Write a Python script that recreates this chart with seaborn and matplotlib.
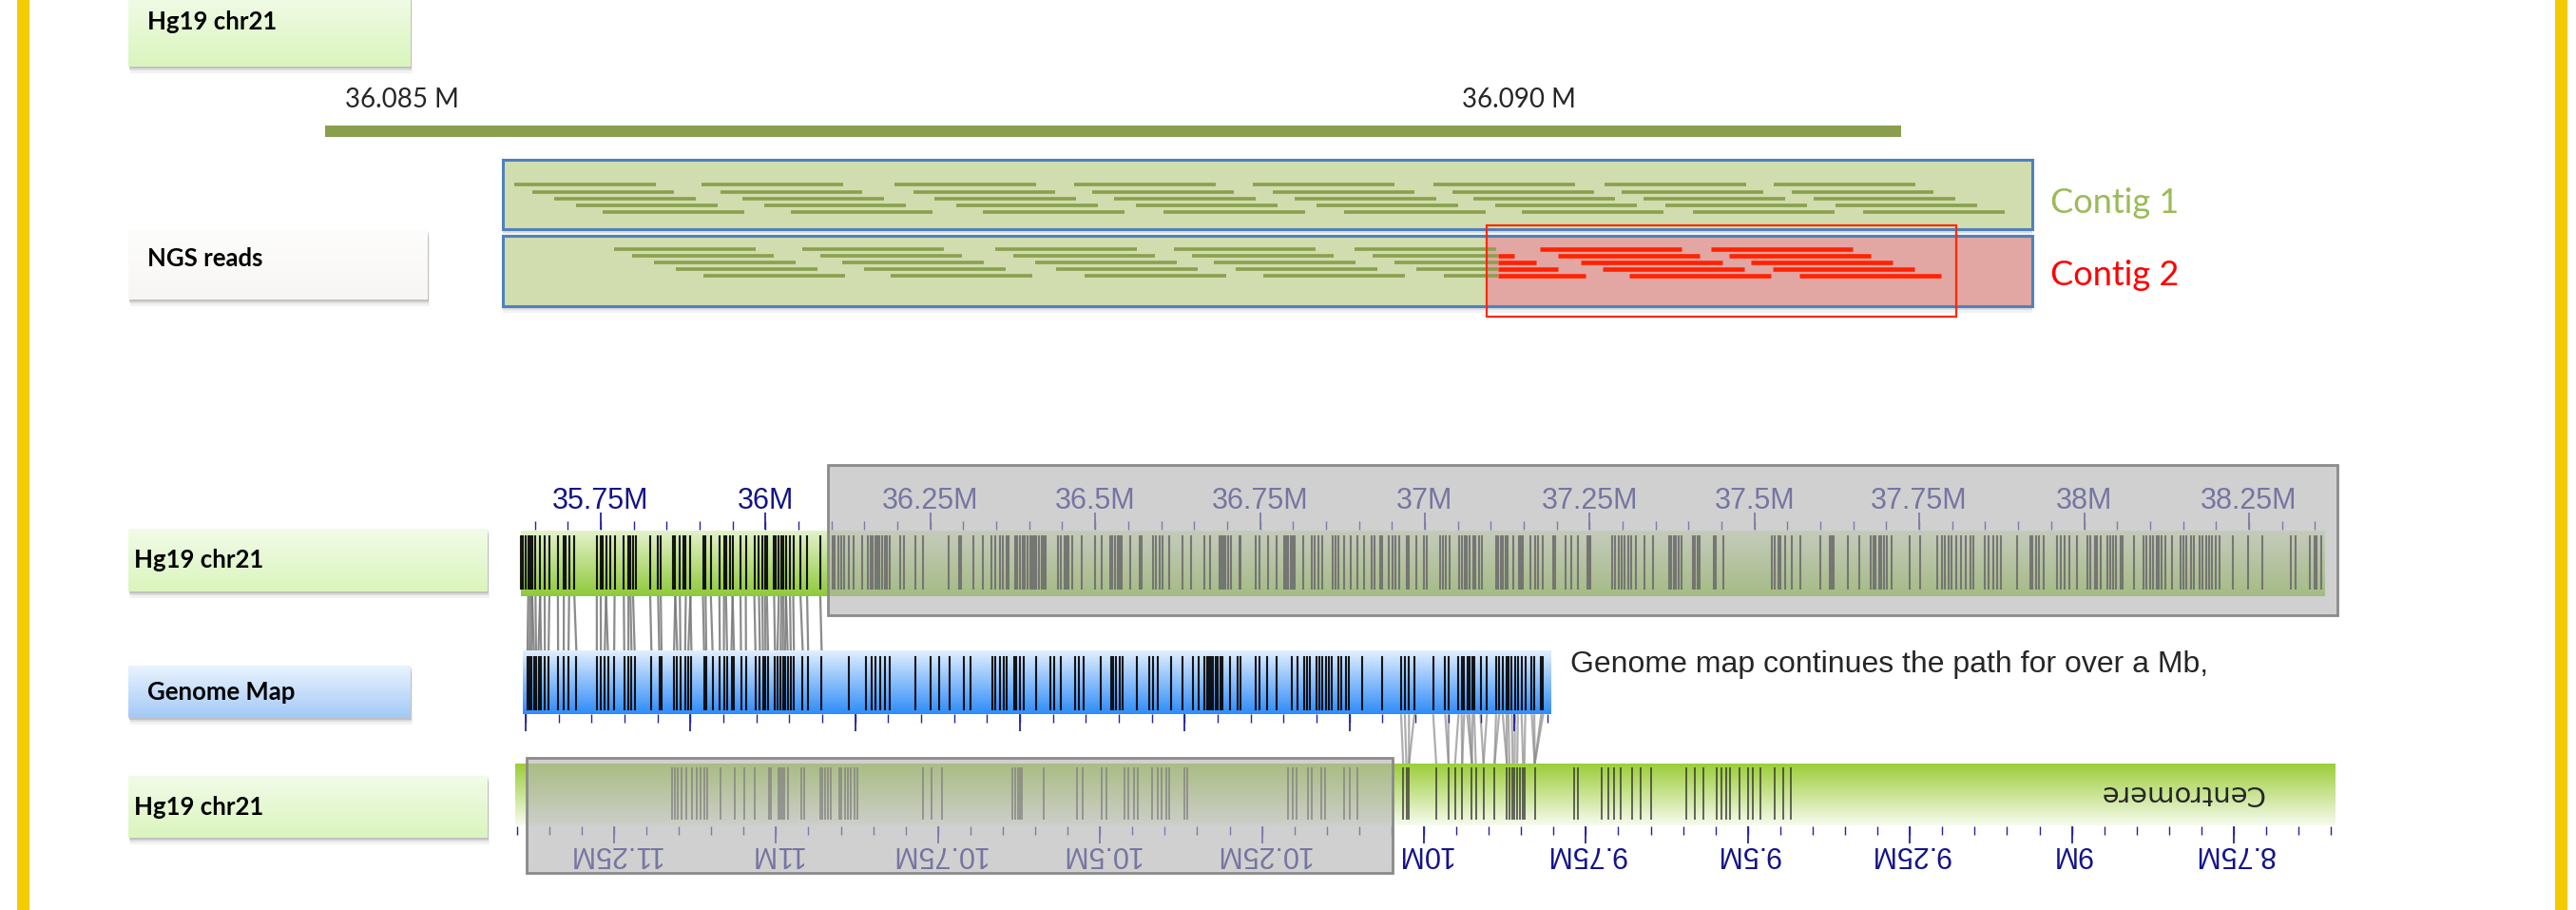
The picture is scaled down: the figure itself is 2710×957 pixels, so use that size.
import numpy as np
import pandas as pd
import matplotlib.pyplot as plt
from matplotlib.colors import LinearSegmentedColormap
from matplotlib.patches import Rectangle
import seaborn as sns

# --- Datos: panel de lecturas NGS (kb desde 36.085 Mb) ---
scale_bar_kb = [-0.345, 6.711]
scale_ticks_kb = [0, 5]
scale_tick_labels = ["36.085 M", "36.090 M"]
contig_box_kb = [0.451, 7.298]
red_box_kb = [4.855, 6.957]
red_reads_from_kb = 4.906
read_len_kb = 0.634
contig_names = ["Contig 1", "Contig 2"]

contig1_reads_kb = [
    [0.502, 1.340, 2.204, 3.009, 3.809, 4.617, 5.383, 6.140],
    [0.583, 1.426, 2.289, 3.089, 3.898, 4.702, 5.460, 6.221],
    [0.681, 1.523, 2.383, 3.187, 3.996, 4.796, 5.557, 6.319],
    [0.779, 1.621, 2.481, 3.285, 4.094, 4.894, 5.655, 6.417],
    [0.898, 1.740, 2.600, 3.409, 4.217, 5.013, 5.779, 6.540],
]
contig2_reads_kb = [
    [0.949, 1.791, 2.655, 3.455, 4.264, 5.094, 5.860],
    [1.030, 1.872, 2.736, 3.536, 4.345, 5.174, 5.940],
    [1.128, 1.970, 2.834, 3.634, 4.443, 5.277, 6.038],
    [1.226, 2.068, 2.928, 3.732, 4.540, 5.374, 6.136],
    [1.349, 2.187, 3.055, 3.855, 4.664, 5.494, 6.255],
]

# --- Datos: mapas opticos ---
ref1_range_mb = [35.6286, 38.365]
ref1_major_mb = [35.75, 36.0, 36.25, 36.5, 36.75, 37.0, 37.25, 37.5, 37.75, 38.0, 38.25]
ref1_major_labels = ["35.75M", "36M", "36.25M", "36.5M", "36.75M", "37M",
                     "37.25M", "37.5M", "37.75M", "38M", "38.25M"]
ref1_box_mb = [36.095, 38.384]
ref1_labels_mb = [
    35.629, 35.632, 35.636, 35.640, 35.643, 35.646, 35.651, 35.658, 35.665, 35.672,
    35.685, 35.694, 35.697, 35.702, 35.710, 35.744, 35.750, 35.753, 35.758, 35.764,
    35.771, 35.785, 35.792, 35.795, 35.799, 35.804, 35.825, 35.837, 35.841, 35.859,
    35.863, 35.870, 35.875, 35.879, 35.886, 35.905, 35.909, 35.917, 35.930, 35.937,
    35.940, 35.946, 35.950, 35.962, 35.970, 35.983, 35.990, 35.995, 35.999, 36.002,
    36.013, 36.016, 36.020, 36.024, 36.027, 36.031, 36.037, 36.042, 36.053, 36.063,
    36.083, 36.102, 36.105, 36.110, 36.115, 36.119, 36.126, 36.134, 36.147, 36.155,
    36.159, 36.162, 36.166, 36.170, 36.173, 36.177, 36.181, 36.184, 36.189, 36.204,
    36.210, 36.227, 36.239, 36.277, 36.293, 36.296, 36.315, 36.329, 36.343, 36.348,
    36.355, 36.360, 36.365, 36.369, 36.379, 36.382, 36.386, 36.390, 36.393, 36.397,
    36.401, 36.404, 36.408, 36.411, 36.415, 36.419, 36.422, 36.425, 36.444, 36.448,
    36.453, 36.457, 36.460, 36.465, 36.479, 36.500, 36.510, 36.523, 36.526, 36.530,
    36.534, 36.537, 36.540, 36.553, 36.567, 36.570, 36.588, 36.592, 36.598, 36.602,
    36.612, 36.633, 36.645, 36.665, 36.674, 36.688, 36.691, 36.695, 36.698, 36.702,
    36.706, 36.719, 36.721, 36.743, 36.749, 36.762, 36.775, 36.786, 36.789, 36.793,
    36.797, 36.800, 36.803, 36.816, 36.829, 36.833, 36.838, 36.844, 36.860, 36.864,
    36.869, 36.877, 36.888, 36.898, 36.908, 36.920, 36.924, 36.933, 36.935, 36.946,
    36.951, 36.956, 36.961, 36.972, 36.976, 36.987, 36.999, 37.003, 37.023, 37.027,
    37.032, 37.037, 37.052, 37.056, 37.060, 37.063, 37.068, 37.073, 37.077, 37.082,
    37.086, 37.108, 37.111, 37.115, 37.118, 37.122, 37.126, 37.134, 37.143, 37.146,
    37.148, 37.160, 37.167, 37.172, 37.179, 37.195, 37.198, 37.214, 37.222, 37.232,
    37.246, 37.249, 37.251, 37.284, 37.289, 37.294, 37.299, 37.303, 37.308, 37.313,
    37.320, 37.333, 37.346, 37.371, 37.374, 37.378, 37.381, 37.385, 37.389, 37.406,
    37.410, 37.414, 37.417, 37.438, 37.441, 37.453, 37.526, 37.531, 37.536, 37.540,
    37.547, 37.556, 37.569, 37.600, 37.614, 37.617, 37.620, 37.641, 37.659, 37.677,
    37.681, 37.684, 37.689, 37.692, 37.697, 37.701, 37.708, 37.735, 37.751, 37.777,
    37.784, 37.789, 37.794, 37.799, 37.806, 37.813, 37.820, 37.827, 37.832, 37.850,
    37.855, 37.862, 37.868, 37.874, 37.899, 37.919, 37.922, 37.927, 37.932, 37.938,
    37.959, 37.965, 37.970, 37.978, 37.989, 38.005, 38.010, 38.016, 38.020, 38.025,
    38.035, 38.040, 38.044, 38.049, 38.055, 38.059, 38.076, 38.090, 38.095, 38.100,
    38.105, 38.110, 38.113, 38.118, 38.123, 38.134, 38.146, 38.151, 38.155, 38.162,
    38.167, 38.175, 38.180, 38.185, 38.190, 38.194, 38.200, 38.206, 38.225, 38.249,
    38.271, 38.314, 38.321, 38.343, 38.349, 38.353, 38.360,
]

gm_range_kb = [-4.3, 1554.9]
gm_major_kb = [0, 250, 500, 750, 1000, 1250, 1500]
gm_labels_kb = [
    2.8, 6.1, 9.0, 12.4, 15.7, 19.5, 23.4, 29.1, 34.8, 49.2, 57.8, 65.0, 76.9,
    108.0, 114.2, 120.0, 124.8, 134.3, 149.6, 155.9, 160.6, 165.4, 190.8, 202.7,
    206.1, 225.2, 230.0, 234.8, 242.0, 246.8, 251.5, 270.7, 274.0, 283.6, 294.6,
    300.8, 305.6, 312.3, 316.1, 326.7, 334.3, 348.7, 355.4, 360.1, 364.0, 367.8,
    378.3, 382.1, 386.9, 390.3, 393.6, 397.5, 402.2, 407.0, 420.4, 428.6, 449.1,
    490.7, 516.1, 525.7, 531.4, 537.6, 544.8, 552.0, 591.2, 615.1, 628.1, 643.8,
    664.4, 674.9, 707.5, 713.2, 720.4, 725.5, 730.3, 740.8, 744.6, 749.4, 755.2,
    774.3, 795.8, 802.1, 812.6, 834.1, 838.9, 847.0, 872.4, 888.2, 891.5, 896.3,
    901.1, 905.9, 927.4, 945.6, 951.3, 958.5, 980.0, 996.8, 1012.6, 1020.7, 1030.3,
    1033.6, 1036.5, 1039.8, 1043.2, 1047.0, 1050.4, 1054.2, 1057.5, 1068.5, 1080.5,
    1085.3, 1108.2, 1113.0, 1124.5, 1138.9, 1161.8, 1171.4, 1181.9, 1185.7, 1189.6,
    1200.1, 1203.9, 1208.7, 1214.4, 1218.3, 1223.0, 1232.6, 1237.4, 1244.6, 1249.4,
    1269.4, 1299.6, 1328.3, 1334.0, 1340.3, 1348.4, 1377.1, 1395.3, 1400.1, 1415.4,
    1420.2, 1424.0, 1428.8, 1432.1, 1436.9, 1439.3, 1448.8, 1458.4, 1472.4, 1477.0,
    1482.6, 1488.4, 1491.1, 1496.3, 1500.9, 1505.4, 1511.2, 1516.8, 1526.6, 1530.5,
    1540.8, 1543.7,
]
top_link_max_kb = 450      # parte del mapa alineada con chr21 ~36 Mb
bottom_link_min_kb = 1325  # parte del mapa alineada con chr21 ~10 Mb

ref2_range_mb = [11.4025, 8.593]
ref2_major_mb = [11.25, 11.0, 10.75, 10.5, 10.25, 10.0, 9.75, 9.5, 9.25, 9.0, 8.75]
ref2_major_labels = ["11.25M", "11M", "10.75M", "10.5M", "10.25M", "10M",
                     "9.75M", "9.5M", "9.25M", "9M", "8.75M"]
ref2_box_mb = [11.385, 10.048]
centromere_mb = 8.831
ref2_labels_mb = [
    11.160, 11.156, 11.152, 11.146, 11.138, 11.129, 11.122, 11.116, 11.110, 11.106,
    11.085, 11.063, 11.049, 11.033, 11.011, 11.008, 10.996, 10.993, 10.990, 10.987,
    10.981, 10.961, 10.957, 10.931, 10.928, 10.924, 10.920, 10.915, 10.903, 10.899,
    10.894, 10.889, 10.884, 10.879, 10.874, 10.773, 10.760, 10.744, 10.635, 10.631,
    10.627, 10.623, 10.620, 10.587, 10.535, 10.526, 10.497, 10.490, 10.462, 10.457,
    10.448, 10.442, 10.420, 10.411, 10.405, 10.398, 10.393, 10.370, 10.366, 10.210,
    10.202, 10.197, 10.179, 10.173, 10.158, 10.152, 10.123, 10.115, 10.103,
    10.032, 10.027, 10.023, 9.981, 9.962, 9.952, 9.941, 9.926, 9.920, 9.908,
    9.891, 9.872, 9.868, 9.863, 9.860, 9.856, 9.852, 9.847, 9.845, 9.829,
    9.768, 9.762, 9.726, 9.716, 9.706, 9.696, 9.678, 9.665, 9.649, 9.595,
    9.582, 9.569, 9.548, 9.541, 9.534, 9.528, 9.513, 9.500, 9.493, 9.480,
    9.459, 9.446, 9.433,
]

# --- Estilo ---
sns.set_theme(style="white")
plt.rcParams["font.family"] = ["Lato", "DejaVu Sans"]

W, H = 2710, 957
fig = plt.figure(figsize=(W / 100, H / 100), dpi=100)
fig.patch.set_facecolor("white")


def layer(v_a, px_a, v_b, px_b, z):
    # ejes a pantalla completa: x calibrado con dos marcas, y en pixeles
    ax = fig.add_axes([0, 0, 1, 1], zorder=z)
    k = (v_b - v_a) / (px_b - px_a)
    ax.set_xlim(v_a - px_a * k, v_a + (W - px_a) * k)
    ax.set_ylim(H, 0)
    ax.axis("off")
    ax.patch.set_alpha(0)
    return ax


def gradient(ax, x0, x1, y0, y1, c_top, c_bot, z=1):
    cmap = LinearSegmentedColormap.from_list("g", [c_top, c_bot])
    grad = np.linspace(0, 1, 256).reshape(-1, 1)
    ax.imshow(grad, cmap=cmap, extent=(x0, x1, y1, y0), aspect="auto",
              zorder=z, interpolation="bilinear")


def shadow(ax, x0, x1, y0, y1, dx=0.0, z=0.5):
    for d, a in [(7, 0.05), (4, 0.09), (2, 0.12)]:
        ax.add_patch(Rectangle((x0 + d * dx, y0 + d), x1 - x0, y1 - y0,
                               fc="black", ec="none", alpha=a, zorder=z))


canvas = layer(0, 0, W, W, 0)
canvas.patch.set_alpha(1)
canvas.patch.set_facecolor("white")
ax_ngs = layer(0, 423, 5, 1598, 1)
ax_ref1 = layer(35.75, 632, 38.25, 2365.9, 2)
ax_gm = layer(0, 553, 1500, 1593, 2)
ax_ref2 = layer(11.25, 646, 8.75, 2350, 2)

# marco amarillo
for x0, x1 in [(18, 31), (2688, 2701)]:
    canvas.add_patch(Rectangle((x0, 0), x1 - x0, H, fc="#f2cb00", ec="none", zorder=1))

# cajas de etiquetas a la izquierda
boxes = [
    ("Hg19 chr21", 135, 432, -6, 70, "#f2fbe8", "#daf5bd", 155, 31),
    ("NGS reads", 135, 450, 242, 315, "#fdfdfc", "#f8f6f4", 155, 280),
    ("Hg19 chr21", 135, 513, 556, 622, "#f2fbe8", "#daf5bd", 141, 597),
    ("Genome Map", 135, 432, 700, 755, "#eaf3ff", "#a3c9f7", 155, 736),
    ("Hg19 chr21", 135, 513, 816, 881, "#f2fbe8", "#daf5bd", 141, 857),
]
for text, x0, x1, y0, y1, ct, cb, xt, ybase in boxes:
    shadow(canvas, x0, x1, y0, y1, dx=0.3)
    gradient(canvas, x0, x1, y0, y1, ct, cb, z=2)
    canvas.text(xt, ybase, text, fontsize=18.5, fontweight="bold",
                family="Lato", va="baseline", ha="left", color="black", zorder=3)

# --- panel NGS ---
ax_ngs.add_patch(Rectangle((scale_bar_kb[0], 132), scale_bar_kb[1] - scale_bar_kb[0], 12,
                           fc="#8a9f4d", ec="none", zorder=2))
for kb, lab in zip(scale_ticks_kb, scale_tick_labels):
    ax_ngs.text(kb, 113, lab, fontsize=20, family="Lato", ha="center", va="baseline")

contig_y = [(168, 241), (248, 322)]
for (y0, y1) in contig_y:
    shadow(ax_ngs, contig_box_kb[0], contig_box_kb[1], y0, y1, z=1)
    ax_ngs.add_patch(Rectangle((contig_box_kb[0], y0), contig_box_kb[1] - contig_box_kb[0],
                               y1 - y0, fc="#d1ddae", ec="none", zorder=2))
# zona roja del contig 2
ax_ngs.add_patch(Rectangle((red_box_kb[0], contig_y[1][0]), contig_box_kb[1] - red_box_kb[0],
                           contig_y[1][1] - contig_y[1][0], fc="#e2a6a3", ec="none", zorder=2.5))
for (y0, y1) in contig_y:
    ax_ngs.add_patch(Rectangle((contig_box_kb[0], y0), contig_box_kb[1] - contig_box_kb[0],
                               y1 - y0, fc="none", ec="#4f81bd", lw=2.2, zorder=4))


def reads_frame(rows, row_y, lo=None, hi=None):
    recs = []
    for r, (starts, y) in enumerate(zip(rows, row_y)):
        for i, s in enumerate(starts):
            a, b = s, s + read_len_kb
            if lo is not None:
                a = max(a, lo)
            if hi is not None:
                b = min(b, hi)
            if b <= a:
                continue
            recs += [(f"{r}-{i}", a, y), (f"{r}-{i}", b, y)]
    return pd.DataFrame(recs, columns=["read", "x", "y"])


rows1_y = [194, 201.5, 209, 216, 223]
rows2_y = [262, 269, 276, 283, 290]
df1 = reads_frame(contig1_reads_kb, rows1_y)
df2g = reads_frame(contig2_reads_kb, rows2_y, hi=red_reads_from_kb)
df2r = reads_frame(contig2_reads_kb, rows2_y, lo=red_reads_from_kb)
for df, col, lw in [(df1, "#8aa04e", 2.6), (df2g, "#8aa04e", 2.6), (df2r, "#ff2200", 3.3)]:
    sns.lineplot(data=df, x="x", y="y", units="read", estimator=None, color=col,
                 lw=lw, solid_capstyle="butt", legend=False, ax=ax_ngs, zorder=3)

ax_ngs.add_patch(Rectangle((red_box_kb[0], 237), red_box_kb[1] - red_box_kb[0], 96,
                           fc="none", ec="#ff2a00", lw=1.6, zorder=5))
for name, ty, col in zip(contig_names, [214, 289], ["#9bbb59", "#ff0000"]):
    ax_ngs.text(contig_box_kb[1] + 0.08, ty, name, fontsize=26,
                family="Lato", color=col, va="center", ha="left")

# --- mapas opticos ---
tick_col, lab_col = "#24249a", "#13138a"


def draw_ticks(ax, lo, hi, step, majors, labels, base, sign, ylab, flip):
    minors = np.arange(np.ceil(min(lo, hi) / step) * step, max(lo, hi), step)
    ax.vlines(minors, base, base + sign * 9, color=tick_col, lw=1.0, zorder=3)
    ax.vlines(majors, base, base + sign * 18, color=tick_col, lw=1.3, zorder=3)
    if labels is None:
        return
    for v, t in zip(majors, labels):
        ax.text(v, ylab, t, fontsize=22, family="Liberation Sans", color=lab_col,
                ha="center", va="baseline", rotation=180 if flip else 0,
                rotation_mode="anchor", zorder=3)


# chr21 ~36 Mb
gradient(ax_ref1, ref1_range_mb[0], ref1_range_mb[1], 558, 627, "#e4f2cc", "#8fc93a")
ax_ref1.vlines(ref1_labels_mb, 563, 620, color="black", lw=1.5, alpha=0.9, zorder=2)
draw_ticks(ax_ref1, ref1_range_mb[0] + 0.02, ref1_range_mb[1], 0.05,
           ref1_major_mb, ref1_major_labels, 557, -1, 535, False)

# mapa genomico
gradient(ax_gm, gm_range_kb[0], gm_range_kb[1], 684, 751, "#e2efff", "#2e8cf8")
ax_gm.vlines(gm_labels_kb, 690, 747, color="black", lw=1.5, alpha=0.9, zorder=2)
draw_ticks(ax_gm, 0, gm_range_kb[1], 50, gm_major_kb, None, 751, 1, 0, False)

# chr21 ~10 Mb (invertido)
gradient(ax_ref2, ref2_range_mb[0], ref2_range_mb[1], 803, 868, "#9ccd38", "#f7fbef")
ax_ref2.vlines(ref2_labels_mb, 807, 862, color="#2b2b2b", lw=1.1, alpha=0.9, zorder=2)
draw_ticks(ax_ref2, ref2_range_mb[1], ref2_range_mb[0], 0.05,
           ref2_major_mb, ref2_major_labels, 869, 1, 890, True)
ax_ref2.text(centromere_mb, 834, "Centromere", fontsize=21, family="DejaVu Sans",
             ha="center", va="center", rotation=180, rotation_mode="anchor", zorder=3)


# enlaces entre mapas (etiqueta mas cercana)
def px(ax, xs):
    pts = np.column_stack([xs, np.zeros(len(xs))])
    return canvas.transData.inverted().transform(ax.transData.transform(pts))[:, 0]


gm_px = px(ax_gm, gm_labels_kb)
ref1_px = px(ax_ref1, ref1_labels_mb)
ref2_px = px(ax_ref2, ref2_labels_mb)
for kb, g in zip(gm_labels_kb, gm_px):
    if kb <= top_link_max_kb:
        r = ref1_px[np.argmin(np.abs(ref1_px - g))]
        canvas.plot([r, g], [627, 684], color="#777777", lw=1.6, alpha=0.85, zorder=1)
    elif kb >= bottom_link_min_kb:
        r = ref2_px[np.argmin(np.abs(ref2_px - g))]
        canvas.plot([g, r], [752, 803], color="#8c8c8c", lw=1.6, alpha=0.7, zorder=1)

# cajas grises sobre las zonas no alineadas
for ax, (a, b), (y0, y1) in [(ax_ref1, ref1_box_mb, (489, 647)),
                             (ax_ref2, ref2_box_mb, (797, 918))]:
    ax.add_patch(Rectangle((a, y0), b - a, y1 - y0, fc="#b3b3b3", ec="none",
                           alpha=0.62, zorder=10))
    ax.add_patch(Rectangle((a, y0), b - a, y1 - y0, fc="none", ec="#8a8a8a",
                           lw=2.0, zorder=11))

canvas.text(1652, 707, "Genome map continues the path for over a Mb,", fontsize=23,
            family="Liberation Sans", ha="left", va="baseline", zorder=3)

for ax in (ax_ngs, ax_ref1, ax_gm, ax_ref2):
    ax.set_ylim(H, 0)
ax_ngs.set_xlim(0 - 423 * 5 / 1175, 5 + (W - 1598) * 5 / 1175)

plt.savefig("out.png", dpi=100)
